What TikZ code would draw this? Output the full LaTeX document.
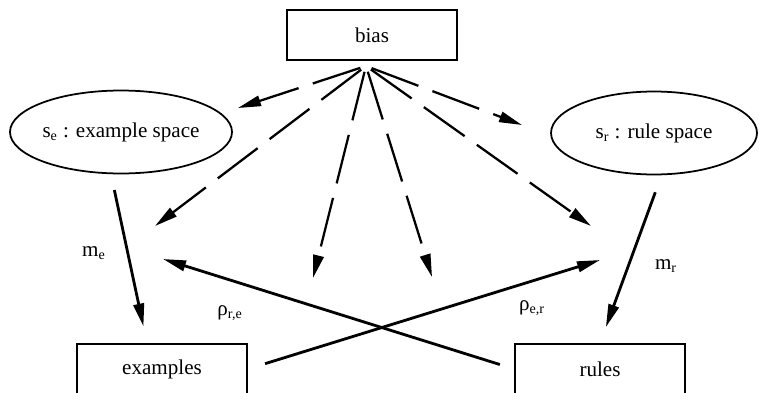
\documentclass[tikz,border=0pt]{standalone}
\usepackage{fontspec}
\setmainfont{Liberation Serif}
\usetikzlibrary{arrows.meta,shapes.geometric}

\begin{document}
\begin{tikzpicture}[
	x=0.02cm,
	y=-0.02cm,
	font=\fontsize{12}{14}\selectfont,
	>={Triangle[length=4.6mm,width=2.1mm]},
	box/.style={
		rectangle,
		draw=black,
		line width=1pt,
		align=center,
		minimum height=1cm,
		minimum width=3.4cm
	},
	space/.style={
		ellipse,
		draw=black,
		line width=1pt,
		align=center,
		inner sep=0pt,
		minimum height=1.66cm
	},
	biasarrow/.style={
		->,
		line width=1.3pt,
		dash pattern=on 1cm off 0.3cm,
		shorten <=0.12cm
	},
	maparrow/.style={
		->,
		line width=1.6pt
	},
	tag/.style={
		inner sep=1pt
	},
]

\clip (0,0) rectangle (759,392);

% Bias
\node[box] (bias) at (372,35) {bias};
\coordinate (hub) at (366,66);

% Spaces
\node[space, minimum width=4.44cm] (se) at (121,132) {s\textsubscript{e} : example space};
\node[space, minimum width=4.12cm] (sr) at (654,133) {s\textsubscript{r} : rule space};

% Examples and rules
\node[box] (ex) at (162,369) {examples};
\node[box] (rules) at (600,369) {rules};

% Free ends of the bias arrows
\coordinate (b1) at (238,108);
\coordinate (b2) at (155,226);
\coordinate (b3) at (313,278);
\coordinate (b4) at (432,277);
\coordinate (b5) at (591,226);
\coordinate (b6) at (522,125);

\draw[biasarrow] (hub) -- (b1);
\draw[biasarrow] (hub) -- (b2);
\draw[biasarrow] (hub) -- (b3);
\draw[biasarrow] (hub) -- (b4);
\draw[biasarrow] (hub) -- (b5);
\draw[biasarrow] (hub) -- (b6);

% Mappings
\draw[maparrow, shorten <=0.32cm, shorten >=0.34cm] ([xshift=-0.2cm]se.south) -- ([xshift=-0.3cm]ex.north);
\draw[maparrow, shorten <=0.36cm, shorten >=0.34cm] ([xshift=0.15cm]sr.south) -- (rules.north);
\node[tag] (me) at (94,253) {m\textsubscript{e}};
\node[tag] (mr) at (666,266) {m\textsubscript{r}};

% Crossing arrows
\coordinate (c1) at (600,260);
\coordinate (c2) at (163,259);
\draw[maparrow, shorten <=0.36cm] (ex.east) -- (c1);
\draw[maparrow, shorten <=0.3cm] (rules.west) -- (c2);
\node[tag] (rhore) at (230,313) {ρ\textsubscript{r,e}};
\node[tag] (rhoer) at (532,308) {ρ\textsubscript{e,r}};

\end{tikzpicture}
\end{document}
